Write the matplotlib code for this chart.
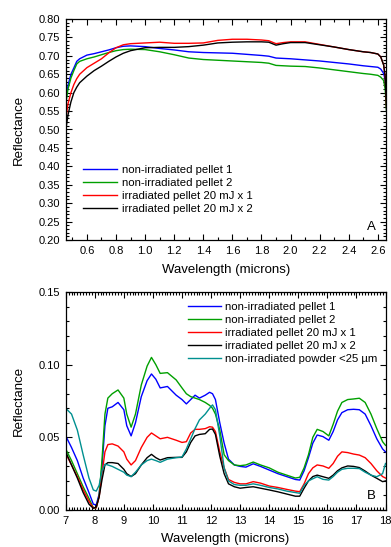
import matplotlib
matplotlib.use("Agg")
import matplotlib.pyplot as plt
from matplotlib.ticker import MultipleLocator, FormatStrFormatter

plt.rcParams['font.family'] = ['Liberation Sans', 'DejaVu Sans']

# ---------------- Panel A data ----------------
wl_a = [0.455, 0.47, 0.49, 0.51, 0.53, 0.55, 0.6, 0.65, 0.7, 0.75, 0.8, 0.85, 0.9, 1.0,
        1.1, 1.2, 1.3, 1.4, 1.5, 1.6, 1.7, 1.8, 1.85, 1.9, 1.95, 2.0, 2.1, 2.2, 2.3,
        2.4, 2.5, 2.55, 2.6, 2.62, 2.64, 2.65, 2.66]
a_pellet1 = [0.58, 0.62, 0.65, 0.667, 0.685, 0.692, 0.702, 0.706, 0.711, 0.716, 0.722, 0.726,
             0.727, 0.725, 0.720, 0.716, 0.711, 0.709, 0.708, 0.707, 0.704, 0.701, 0.699,
             0.694, 0.693, 0.692, 0.689, 0.686, 0.682, 0.678, 0.673, 0.671, 0.669, 0.664,
             0.652, 0.635, 0.58]
a_pellet2 = [0.57, 0.61, 0.64, 0.66, 0.678, 0.685, 0.692, 0.697, 0.703, 0.709, 0.714, 0.717,
             0.718, 0.717, 0.711, 0.703, 0.694, 0.690, 0.688, 0.686, 0.684, 0.682, 0.680,
             0.674, 0.673, 0.672, 0.671, 0.667, 0.662, 0.657, 0.652, 0.650, 0.647, 0.642,
             0.633, 0.61, 0.55]
a_irr1 = [0.53, 0.57, 0.60, 0.622, 0.638, 0.650, 0.668, 0.680, 0.692, 0.708, 0.722, 0.730,
          0.733, 0.735, 0.737, 0.734, 0.734, 0.735, 0.742, 0.745, 0.745, 0.743, 0.741,
          0.733, 0.736, 0.738, 0.738, 0.731, 0.724, 0.717, 0.711, 0.709, 0.705, 0.697,
          0.675, 0.645, 0.56]
a_irr2 = [0.50, 0.54, 0.575, 0.60, 0.615, 0.627, 0.645, 0.660, 0.672, 0.685, 0.697, 0.707,
          0.714, 0.722, 0.723, 0.723, 0.725, 0.729, 0.735, 0.737, 0.738, 0.738, 0.737,
          0.729, 0.733, 0.736, 0.736, 0.730, 0.724, 0.717, 0.711, 0.709, 0.705, 0.697,
          0.675, 0.645, 0.55]

# ---------------- Panel B data ----------------
wl_b = [7.0, 7.2, 7.4, 7.6, 7.8, 7.95, 8.05, 8.15, 8.25, 8.35, 8.45, 8.6, 8.8, 9.0, 9.1,
        9.25, 9.4, 9.6, 9.8, 9.95, 10.1, 10.25, 10.5, 10.8, 11.0, 11.15, 11.3, 11.45,
        11.6, 11.8, 11.95, 12.05, 12.15, 12.3, 12.45, 12.6, 12.8, 13.0, 13.2, 13.45,
        13.7, 14.0, 14.3, 14.6, 14.9, 15.05, 15.2, 15.35, 15.5, 15.65, 15.85, 16.05,
        16.2, 16.35, 16.5, 16.7, 16.9, 17.1, 17.3, 17.5, 17.7, 17.9, 18.0]
b_pellet1 = [0.051, 0.043, 0.034, 0.022, 0.012, 0.004, 0.0035, 0.011, 0.030, 0.058, 0.070,
             0.071, 0.074, 0.069, 0.058, 0.051, 0.060, 0.078, 0.089, 0.0936, 0.090, 0.084,
             0.085, 0.079, 0.076, 0.073, 0.076, 0.079, 0.077, 0.079, 0.081, 0.080, 0.076,
             0.060, 0.046, 0.035, 0.031, 0.030, 0.0295, 0.0318, 0.030, 0.0275, 0.025,
             0.023, 0.021, 0.0206, 0.027, 0.036, 0.046, 0.0516, 0.0505, 0.048, 0.054,
             0.062, 0.067, 0.069, 0.0693, 0.069, 0.066, 0.058, 0.049, 0.042, 0.040]
b_pellet2 = [0.042, 0.034, 0.025, 0.016, 0.008, 0.0015, 0.0015, 0.010, 0.035, 0.066, 0.077,
             0.080, 0.0826, 0.077, 0.066, 0.057, 0.066, 0.086, 0.099, 0.105, 0.100, 0.094,
             0.0945, 0.0895, 0.084, 0.080, 0.078, 0.077, 0.076, 0.074, 0.072, 0.070, 0.066,
             0.055, 0.038, 0.034, 0.031, 0.0305, 0.031, 0.033, 0.031, 0.029, 0.026, 0.024,
             0.022, 0.0225, 0.029, 0.038, 0.050, 0.0555, 0.054, 0.051, 0.059, 0.068, 0.074,
             0.076, 0.0764, 0.0769, 0.074, 0.066, 0.056, 0.047, 0.0445]
b_irr1 = [0.039, 0.031, 0.023, 0.014, 0.006, 0.0015, 0.0015, 0.009, 0.025, 0.040, 0.045,
          0.0455, 0.044, 0.040, 0.035, 0.031, 0.034, 0.043, 0.050, 0.053, 0.051, 0.049,
          0.050, 0.048, 0.0465, 0.047, 0.053, 0.0555, 0.0555, 0.056, 0.0573, 0.057, 0.054,
          0.040, 0.029, 0.021, 0.019, 0.018, 0.018, 0.0195, 0.0185, 0.0165, 0.0155, 0.0142,
          0.013, 0.0126, 0.018, 0.025, 0.029, 0.031, 0.0303, 0.0287, 0.032, 0.037, 0.040,
          0.0395, 0.0385, 0.0378, 0.036, 0.032, 0.027, 0.023, 0.022]
b_irr2 = [0.040, 0.031, 0.022, 0.012, 0.004, 0.0012, 0.002, 0.009, 0.021, 0.031, 0.0326,
          0.0326, 0.032, 0.028, 0.025, 0.023, 0.025, 0.031, 0.036, 0.0383, 0.036, 0.0344,
          0.036, 0.0362, 0.0362, 0.040, 0.0465, 0.051, 0.052, 0.0525, 0.0555, 0.0557, 0.052,
          0.037, 0.025, 0.018, 0.016, 0.015, 0.0155, 0.016, 0.015, 0.0138, 0.0125, 0.011,
          0.0095, 0.0095, 0.015, 0.020, 0.023, 0.024, 0.0229, 0.0218, 0.024, 0.027, 0.029,
          0.0303, 0.030, 0.0292, 0.0268, 0.024, 0.0218, 0.0195, 0.020]
b_powder = [0.070, 0.066, 0.055, 0.038, 0.022, 0.0138, 0.013, 0.017, 0.027, 0.0315, 0.031,
            0.030, 0.028, 0.026, 0.024, 0.023, 0.026, 0.031, 0.034, 0.035, 0.034, 0.0328,
            0.035, 0.036, 0.0365, 0.042, 0.049, 0.056, 0.062, 0.066, 0.070, 0.0723, 0.069,
            0.051, 0.029, 0.020, 0.0175, 0.017, 0.017, 0.018, 0.017, 0.0155, 0.0145, 0.013,
            0.012, 0.0115, 0.017, 0.020, 0.0215, 0.0229, 0.0211, 0.0206, 0.023, 0.026, 0.028,
            0.0287, 0.0287, 0.0285, 0.026, 0.024, 0.0229, 0.025, 0.032]

labels_a = ["non-irradiated pellet 1", "non-irradiated pellet 2",
            "irradiated pellet 20 mJ x 1", "irradiated pellet 20 mJ x 2"]
labels_b = labels_a + ["non-irradiated powder <25 \u00b5m"]

C_BLUE, C_GREEN, C_RED, C_BLACK, C_TEAL = '#0000ff', '#00a000', '#ff0000', '#000000', '#009090'

W, H = 391, 547
fig = plt.figure(figsize=(W / 100, H / 100), dpi=100)

def px_axes(l, t, r, b):
    return fig.add_axes([l / W, 1 - b / H, (r - l) / W, (b - t) / H])

def style(ax):
    ax.tick_params(which='both', direction='in', top=True, right=True, labelsize=8, width=0.8,
                   colors='black', pad=4)
    ax.tick_params(which='major', length=4)
    ax.tick_params(which='minor', length=2)
    for s in ax.spines.values():
        s.set_linewidth(0.9)

# Panel A
axA = px_axes(65.7, 19, 386, 240)
lw = 1.0
axA.plot(wl_a, a_pellet1, color=C_BLUE, lw=lw, label=labels_a[0])
axA.plot(wl_a, a_pellet2, color=C_GREEN, lw=lw, label=labels_a[1])
axA.plot(wl_a, a_irr1, color=C_RED, lw=lw, label=labels_a[2])
axA.plot(wl_a, a_irr2, color=C_BLACK, lw=lw, label=labels_a[3])
axA.set_xlim(0.454, 2.656)
axA.set_ylim(0.20, 0.80)
axA.xaxis.set_major_locator(MultipleLocator(0.2))
axA.xaxis.set_minor_locator(MultipleLocator(0.1))
axA.yaxis.set_major_locator(MultipleLocator(0.05))
axA.yaxis.set_minor_locator(MultipleLocator(0.01))
axA.xaxis.set_major_formatter(FormatStrFormatter('%.1f'))
axA.yaxis.set_major_formatter(FormatStrFormatter('%.2f'))
style(axA)
axA.set_xlabel("Wavelength (microns)", fontsize=9.5)
axA.set_ylabel("Reflectance", fontsize=9.5)
axA.xaxis.set_label_coords(0.5, -0.107)
axA.yaxis.set_label_coords(-0.127, 0.5)
axA.text(0.955, 0.06, "A", transform=axA.transAxes, fontsize=9.5, ha='center', va='center')
axA.legend(loc='upper left', bbox_to_anchor=(0.054, 0.338), frameon=False, fontsize=8.2,
           handlelength=3.0, handletextpad=0.4, labelspacing=0.25, borderpad=0, borderaxespad=0)

# Panel B
axB = px_axes(65.7, 292, 385.5, 510)
axB.plot(wl_b, b_pellet1, color=C_BLUE, lw=lw, label=labels_b[0])
axB.plot(wl_b, b_pellet2, color=C_GREEN, lw=lw, label=labels_b[1])
axB.plot(wl_b, b_irr1, color=C_RED, lw=lw, label=labels_b[2])
axB.plot(wl_b, b_irr2, color=C_BLACK, lw=lw, label=labels_b[3])
axB.plot(wl_b, b_powder, color=C_TEAL, lw=lw, label=labels_b[4])
axB.set_xlim(7, 18)
axB.set_ylim(0.0, 0.15)
axB.xaxis.set_major_locator(MultipleLocator(1))
axB.xaxis.set_minor_locator(MultipleLocator(0.1))
axB.yaxis.set_major_locator(MultipleLocator(0.05))
axB.yaxis.set_minor_locator(MultipleLocator(0.01))
axB.yaxis.set_major_formatter(FormatStrFormatter('%.2f'))
style(axB)
axB.set_xlabel("Wavelength (microns)", fontsize=9.5)
axB.set_ylabel("Reflectance", fontsize=9.5)
axB.xaxis.set_label_coords(0.5, -0.105)
axB.yaxis.set_label_coords(-0.127, 0.5)
axB.text(0.955, 0.065, "B", transform=axB.transAxes, fontsize=9.5, ha='center', va='center')
axB.legend(loc='upper left', bbox_to_anchor=(0.382, 0.952), frameon=False, fontsize=8.2,
           handlelength=2.9, handletextpad=0.4, labelspacing=0.25, borderpad=0, borderaxespad=0)

fig.savefig("out.png", dpi=100)
